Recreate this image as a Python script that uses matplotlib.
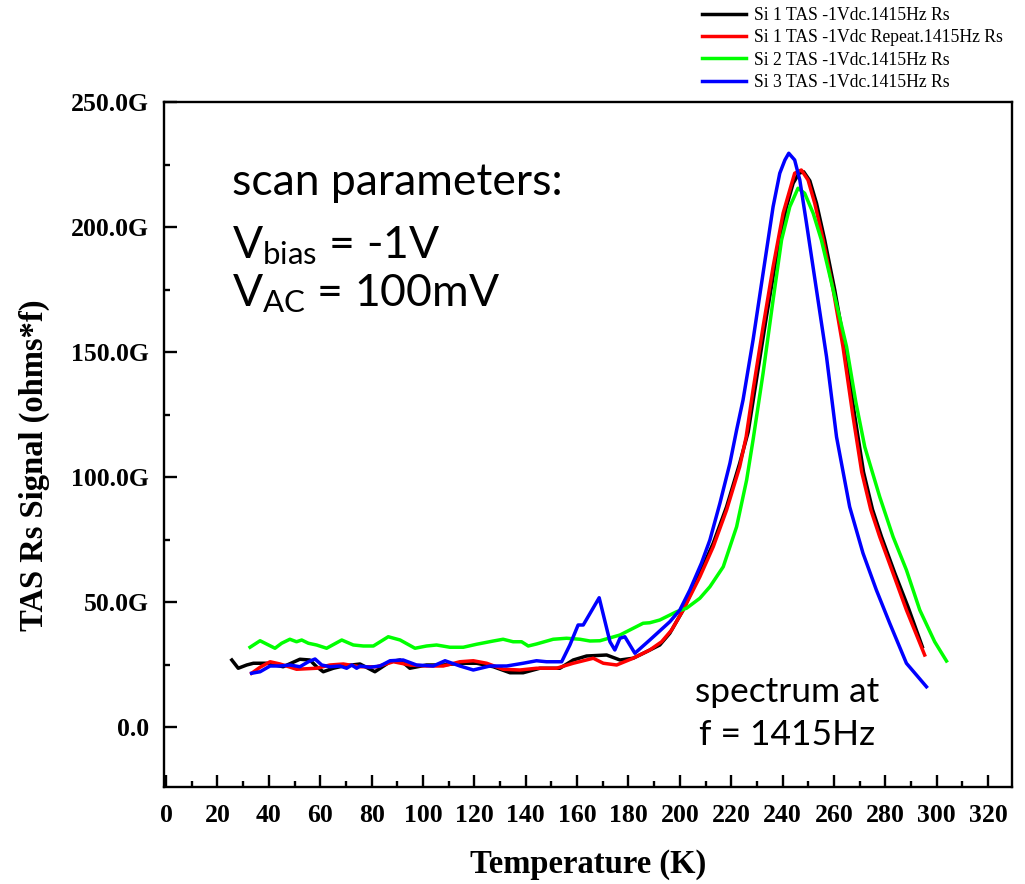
import matplotlib
matplotlib.use("Agg")
import matplotlib.pyplot as plt
from matplotlib.ticker import FuncFormatter, MultipleLocator

# Temperature sweeps (K) and TAS Rs signal (G ohms*f) for each sample
temp_si1 = [25.6, 28.1, 31.4, 34.0, 39.2, 45.6, 52.1, 56.0, 58.6, 61.2, 65.1, 69.0, 75.5, 81.3,
            87.2, 91.1, 94.9, 101.4, 107.9, 114.4, 120.9, 127.4, 133.9, 139.0, 145.5, 153.3,
            158.5, 163.7, 171.5, 176.7, 181.8, 187.0, 192.2, 196.1, 201.3, 207.8, 213.0,
            218.2, 223.3, 226.6, 229.8, 233.7, 237.6, 241.5, 244.1, 246.4, 248.2, 250.6,
            253.2, 256.4, 260.3, 264.2, 268.0, 271.5, 275.0, 278.5, 283.7, 288.8, 294.4]
sig_si1 = [26.8, 23.5, 24.8, 25.5, 25.5, 24.1, 27.1, 26.8, 24.1, 22.1, 23.5, 24.4, 25.2, 22.1,
           26.1, 26.8, 23.5, 24.8, 24.8, 25.5, 25.5, 24.1, 21.7, 21.7, 23.5, 23.5,
           26.8, 28.4, 28.8, 26.8, 27.5, 30.1, 32.8, 37.5, 46.8, 61.5, 73.5,
           88.1, 105.5, 118.0, 138.8, 164.1, 188.1, 208.1, 217.5, 221.5, 222.1, 218.5,
           209.5, 194.8, 174.8, 152.1, 125.0, 102.0, 87.0, 76.1, 61.5, 48.1, 32.1]

temp_si1_rep = [33.3, 36.6, 40.5, 44.4, 50.8, 58.6, 63.8, 69.0, 75.5, 82.0, 88.5, 94.9, 101.4,
                107.9, 114.4, 119.6, 124.8, 131.2, 137.7, 144.2, 152.0, 158.5, 166.3, 170.2,
                175.4, 181.8, 188.3, 192.9, 196.8, 201.3, 207.8, 213.0, 218.2, 223.3, 225.8,
                228.5, 232.4, 236.3, 240.2, 242.8, 244.7, 247.3, 249.9, 252.5, 255.8, 259.7,
                263.5, 267.3, 270.8, 274.3, 277.8, 283.0, 288.2, 295.3]
sig_si1_rep = [21.5, 23.9, 26.1, 25.2, 23.1, 23.5, 24.8, 25.2, 24.1, 24.1, 26.1, 24.8, 24.4,
               24.4, 26.1, 26.5, 25.5, 23.1, 22.8, 23.5, 23.5, 25.5, 27.5, 25.5,
               24.8, 27.5, 30.8, 34.1, 38.8, 46.8, 60.1, 72.1, 86.8, 104.1, 116.0,
               134.8, 160.1, 184.1, 205.5, 214.8, 221.5, 222.8, 218.8, 209.5, 194.8, 174.8,
               152.1, 125.0, 102.0, 87.0, 76.1, 61.5, 46.8, 28.8]

temp_si2 = [32.7, 36.6, 42.4, 45.0, 48.2, 50.8, 52.8, 55.4, 58.6, 62.5, 68.4, 72.9, 76.8, 80.7,
            86.5, 91.1, 96.9, 101.4, 105.3, 110.5, 115.7, 120.9, 127.4, 131.2, 135.1, 138.4,
            141.0, 144.2, 150.7, 155.9, 161.1, 165.0, 168.9, 176.7, 185.7, 188.3, 192.2,
            198.7, 202.6, 207.8, 211.7, 216.9, 222.1, 226.0, 228.5, 232.4, 236.3, 239.6,
            242.8, 246.0, 248.6, 251.9, 255.1, 259.7, 264.9, 268.5, 272.0, 277.8, 283.0,
            288.2, 293.4, 299.2, 303.8]
sig_si2 = [31.9, 34.5, 31.5, 33.5, 35.1, 34.1, 34.8, 33.5, 32.8, 31.5, 34.8, 32.8, 32.4, 32.4,
           36.1, 34.8, 31.5, 32.4, 32.8, 31.9, 31.9, 33.1, 34.4, 35.1, 34.1, 34.1,
           32.4, 33.2, 35.1, 35.5, 35.1, 34.4, 34.5, 36.8, 41.5, 41.7, 42.8,
           46.1, 47.5, 51.5, 56.1, 64.1, 80.1, 98.8, 114.8, 141.5, 170.8, 194.8,
           208.1, 215.5, 213.5, 205.5, 194.8, 174.8, 152.1, 130.0, 112.0, 92.1, 76.1,
           62.8, 46.8, 34.1, 26.4]

temp_si3 = [33.3, 36.6, 40.5, 44.4, 48.2, 52.1, 55.4, 58.0, 60.6, 63.8, 67.7, 70.3, 72.3, 74.2,
            75.5, 79.4, 83.3, 87.2, 92.3, 97.5, 104.0, 108.6, 114.4, 119.6, 126.1, 132.6,
            139.0, 144.2, 148.1, 154.0, 157.2, 160.4, 162.4, 168.6, 172.8, 174.7, 176.7,
            178.6, 182.5, 188.3, 196.1, 200.0, 203.9, 208.4, 211.7, 215.6, 219.5, 222.1,
            224.6, 228.5, 232.4, 236.3, 238.9, 240.9, 242.4, 244.7, 246.7, 249.3, 253.2,
            257.1, 261.0, 266.1, 271.3, 276.5, 281.7, 288.2, 296.0]
sig_si3 = [21.5, 22.1, 24.4, 24.4, 24.8, 24.1, 26.1, 27.2, 24.8, 24.1, 24.4, 23.5, 24.8, 23.5,
           24.4, 23.9, 24.4, 26.5, 26.8, 24.8, 24.4, 26.5, 24.4, 22.8, 24.4, 24.4,
           25.5, 26.5, 26.1, 26.1, 32.8, 40.8, 40.8, 51.7, 34.1, 30.8, 35.5,
           36.1, 29.5, 34.8, 42.1, 46.8, 54.8, 65.5, 74.8, 89.5, 105.5, 118.8,
           130.8, 154.8, 181.5, 208.1, 221.5, 226.8, 229.5, 226.8, 218.8, 201.5, 174.8,
           148.1, 116.0, 88.1, 69.5, 54.8, 41.5, 25.5, 16.1]

series_labels = ["Si 1 TAS -1Vdc.1415Hz Rs",
                 "Si 1 TAS -1Vdc Repeat.1415Hz Rs",
                 "Si 2 TAS -1Vdc.1415Hz Rs",
                 "Si 3 TAS -1Vdc.1415Hz Rs"]
series_colors = ["#000000", "#ff0000", "#00ff00", "#0000ff"]

x_ticks = list(range(0, 321, 20))
y_ticks = [0, 50, 100, 150, 200, 250]

plt.rcParams["mathtext.fontset"] = "custom"
plt.rcParams["mathtext.rm"] = "Lato"
plt.rcParams["mathtext.it"] = "Lato:italic"

fig = plt.figure(figsize=(10.25, 8.84), dpi=100)
ax = fig.add_axes([164 / 1025, 97 / 884, 848 / 1025, 685 / 884])

curves = [(temp_si1, sig_si1), (temp_si1_rep, sig_si1_rep),
          (temp_si2, sig_si2), (temp_si3, sig_si3)]
for (t, s), lab, col in zip(curves, series_labels, series_colors):
    ax.plot(t, s, color=col, lw=2.5, label=lab, solid_joinstyle="round")

ax.set_xlim(-0.8, 329.3)
ax.set_ylim(-24, 250)
ax.set_xticks(x_ticks)
ax.set_yticks(y_ticks)
ax.xaxis.set_minor_locator(MultipleLocator(10))
ax.yaxis.set_minor_locator(MultipleLocator(25))
ax.yaxis.set_major_formatter(FuncFormatter(lambda v, p: "0.0" if v == 0 else f"{v:.1f}G"))

for sp in ax.spines.values():
    sp.set_linewidth(1.7)
ax.tick_params(which="both", direction="in", width=1.7, top=False, right=False)
ax.tick_params(which="major", length=9)
ax.tick_params(which="minor", length=4.5)
ax.tick_params(axis="x", which="major", pad=12)
ax.tick_params(axis="y", which="major", pad=11)
for lbl in ax.get_xticklabels() + ax.get_yticklabels():
    lbl.set_fontfamily("Liberation Serif")
    lbl.set_fontweight("bold")
    lbl.set_fontsize(18.5)

ax.set_xlabel("Temperature (K)", family="Liberation Serif", weight="bold", fontsize=23.5, labelpad=16)
ax.set_ylabel("TAS Rs Signal (ohms*f)", family="Liberation Serif", weight="bold", fontsize=23.5)
ax.yaxis.set_label_coords(-0.135, 0.469)

# scan annotations
txt = dict(family="Lato", color="black", transform=ax.transAxes, va="baseline")
ax.text(0.080, 0.864, "scan parameters:", fontsize=32, **txt)
ax.text(0.080, 0.772, r"V$_{\mathrm{bias}}$ = -1V", fontsize=32, **txt)
ax.text(0.080, 0.702, r"V$_{\mathrm{AC}}$ = 100mV", fontsize=32, **txt)
ax.text(0.735, 0.124, "spectrum at", ha="center", fontsize=25.5, **txt)
ax.text(0.735, 0.061, "f = 1415Hz", ha="center", fontsize=25.5, **txt)

fig.legend(loc="upper left", bbox_to_anchor=(702 / 1025, 0.992), frameon=False,
           prop={"family": "Liberation Serif", "size": 12.7}, handlelength=2.5,
           handletextpad=0.45, labelspacing=0.3, borderpad=0, borderaxespad=0)

fig.savefig("out.png", dpi=100)
